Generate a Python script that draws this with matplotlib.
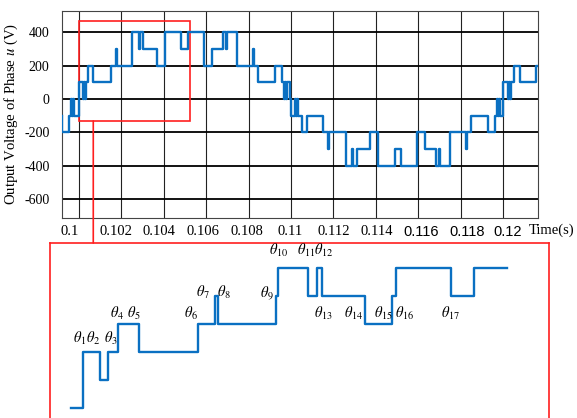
import matplotlib
matplotlib.use('Agg')
import matplotlib.pyplot as plt
from matplotlib.patches import Rectangle, ConnectionPatch
from matplotlib import transforms

plt.rcParams['font.family'] = 'Liberation Serif'
plt.rcParams['mathtext.fontset'] = 'stix'
plt.rcParams['axes.unicode_minus'] = False

# phase u output voltage: switching instants (s) and level after each switch (V)
t_sw = [0.099198, 0.099222, 0.099542, 0.099623, 0.09967, 0.099717, 0.099788,
        0.1, 0.100189, 0.100236, 0.100283, 0.10033, 0.100425, 0.100675,
        0.101495, 0.101745, 0.101783, 0.102486, 0.102854, 0.102901, 0.103033,
        0.103693, 0.10408, 0.104811, 0.105156, 0.10591, 0.106274, 0.106807,
        0.106934, 0.106981, 0.107439, 0.108208, 0.108255, 0.108458, 0.109245,
        0.109561, 0.10967, 0.109717, 0.109764, 0.109811, 0.109976, 0.11001,
        0.110189, 0.110236, 0.110283, 0.11033, 0.110505, 0.110769, 0.111495,
        0.111759, 0.111797, 0.112571, 0.112901, 0.112948, 0.11309, 0.113741,
        0.114127, 0.114882, 0.115175, 0.115943, 0.116307, 0.116858, 0.116981,
        0.117028, 0.117481, 0.118255, 0.118302, 0.1185, 0.119292, 0.119604,
        0.119708, 0.119755, 0.119802, 0.119849, 0.12, 0.120212, 0.120259,
        0.120307, 0.120354, 0.120519, 0.120778, 0.121557]
v_lvl = [-100, -200, -100, 0, -100, 0, -100,
         100, 0, 100, 0, 100, 200, 100,
         200, 300, 200, 400, 300, 400, 300,
         200, 400, 300, 400, 200, 300, 400,
         300, 400, 200, 300, 200, 100, 200,
         100, 0, 100, 0, 100, 0, -100,
         0, -100, 0, -100, -200, -100, -200,
         -300, -200, -400, -300, -400, -300, -200,
         -400, -300, -400, -200, -300, -400, -300,
         -400, -200, -300, -200, -100, -200, -100,
         0, -100, 0, -100, 100, 0, 100,
         0, 100, 200, 100, 200]
t_end = 0.12165

xtick_vals = [0.100, 0.102, 0.104, 0.106, 0.108, 0.110, 0.112, 0.114, 0.116, 0.118, 0.120]
xtick_text = ['0.1', '0.102', '0.104', '0.106', '0.108', '0.11', '0.112', '0.114', '0.116', '0.118', '0.12']
ytick_vals = [400, 200, 0, -200, -400, -600]
ytick_text = ['400', '200', '0', '-200', '-400', '-600']

# zoomed sketch: switching angle (deg) and level (V)
ang_sw = [-2.7, 0.0, 4.2, 6.0, 8.4, 13.4, 27.3, 31.5, 32.1, 46.0, 46.3,
          53.6, 55.7, 56.8, 67.0, 73.6, 74.4, 87.5, 93.0]
ang_lvl = [-100, 100, 0, 100, 200, 100, 200, 300, 200, 300, 400,
           300, 400, 300, 200, 300, 400, 300, 400]
ang_end = 100.7

theta_names = [r'$\theta_{%d}$' % k for k in range(1, 18)]
theta_x = [-0.9, 2.4, 6.6, 8.2, 12.2, 25.6, 28.6, 33.4, 43.7, 46.4,
           53.0, 57.3, 57.1, 64.3, 71.4, 76.4, 87.4]
theta_y = [150, 150, 150, 236, 236, 236, 311, 311, 311, 461,
           461, 461, 236, 236, 236, 236, 236]

BLUE = '#0a70c2'
RED = '#ff1f1f'

fig = plt.figure(figsize=(5.77, 4.18), dpi=100)
ax = fig.add_axes([62/577, 1 - 218/418, 476/577, 207.3/418])

ax.step(t_sw + [t_end], v_lvl + [v_lvl[-1]], where='post', color=BLUE, lw=1.7, zorder=3)
ax.set_xlim(0.0992, 0.12165)
ax.set_ylim(-714, 530)

ax.set_xticks(xtick_vals)
ax.set_xticklabels(xtick_text, fontsize=10.5)
ax.set_yticks(ytick_vals)
ax.set_yticklabels(ytick_text, fontsize=10)
ax.tick_params(axis='both', length=0)
ax.tick_params(axis='x', pad=5)
ax.tick_params(axis='y', pad=9)
ax.set_axisbelow(True)
ax.xaxis.grid(True, color='#222222', lw=0.8)
ax.yaxis.grid(True, color='black', lw=1.3)
for s in ax.spines.values():
    s.set_color('#444444')
    s.set_linewidth(0.8)

# the hand-placed tick labels of the original are a bit off the grid lines
label_shift = [-9, -5.5, -5, -3, -1.5, -1, 0, 1, 2.5, 6.5, 4.5]
for lab, dx in zip(ax.get_xticklabels(), label_shift):
    lab.set_transform(lab.get_transform() + transforms.ScaledTranslation(dx / 100, 0, fig.dpi_scale_trans))
for lab in ax.get_xticklabels()[8:]:
    lab.set_fontfamily('Liberation Sans')

ax.set_ylabel(r'Output Voltage of Phase $u$ (V)', fontsize=10.6, labelpad=3)
ax.text(1.029, -0.058, 'Time(s)', transform=ax.transAxes, ha='center', va='center', fontsize=10.5)

# zoom window on the main trace
ax.add_patch(Rectangle((0.1, -132), 0.005236, 602, fill=False, edgecolor=RED, lw=1.2, zorder=2.5))

# inset with the switching angles
ax2 = fig.add_axes([50/577, (418 - 470)/418, 499/577, 227/418])
ax2.step(ang_sw + [ang_end], ang_lvl + [ang_lvl[-1]], where='post', color=BLUE, lw=1.7)
ax2.set_xlim(-7.8, 110.8)
ax2.set_ylim(-321, 489)
ax2.set_xticks([])
ax2.set_yticks([])
for s in ax2.spines.values():
    s.set_color(RED)
    s.set_linewidth(1.2)
for name, x, y in zip(theta_names, theta_x, theta_y):
    ax2.text(x, y, name, ha='center', va='center', fontsize=10.5)

con = ConnectionPatch(xyA=(0.100675, -132), coordsA=ax.transData,
                      xyB=(0.100675, 1.0),
                      coordsB=transforms.blended_transform_factory(ax.transData, ax2.transAxes),
                      color=RED, lw=1.2)
fig.add_artist(con)

fig.savefig('out.png', dpi=100)
